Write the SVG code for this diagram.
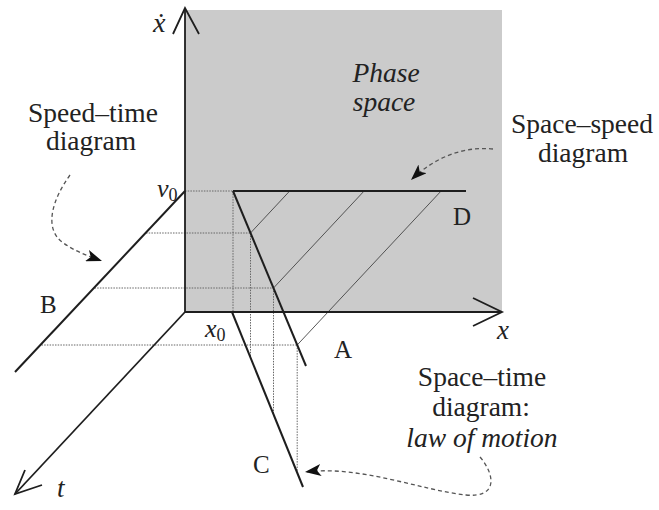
<svg xmlns="http://www.w3.org/2000/svg" width="659" height="510" viewBox="0 0 659 510" font-family="'Liberation Serif', 'DejaVu Serif', 'Times New Roman', serif">
<style>
text{font-family:'Liberation Serif','DejaVu Serif','Times New Roman',serif;fill:#222}
.lbl{font-size:27.5px;text-anchor:middle}
.it{font-style:italic}
.ax{stroke:#1e1e1e;stroke-width:1.8;fill:none}
.ln{stroke:#1e1e1e;stroke-width:2;fill:none}
.dot{stroke:#666;stroke-width:1;stroke-dasharray:1.5 1.2;fill:none}
.proj{stroke:#444;stroke-width:0.9;fill:none}
.call{stroke:#555;stroke-width:1.3;stroke-dasharray:4 3;fill:none;marker-end:url(#ah)}
</style>
<defs>
<marker id="ah" viewBox="0 0 16 12" refX="16" refY="6" markerWidth="16" markerHeight="12" markerUnits="userSpaceOnUse" orient="auto">
<path d="M0,0 L16,6 L0,12 L4,6 Z" fill="#111"/>
</marker>
</defs>
<g id="phase-space">
<rect x="185" y="10" width="317" height="302" fill="#cbcbcb"/>
<text class="lbl it" x="386" y="82">Phase</text>
<text class="lbl it" x="384" y="111">space</text>
</g>
<g id="projections">
<line class="dot" x1="185" y1="191" x2="233" y2="191"/>
<line class="dot" x1="146" y1="233" x2="250.5" y2="233"/>
<line class="dot" x1="94.5" y1="288" x2="273.5" y2="288"/>
<line class="dot" x1="41.5" y1="345" x2="297.2" y2="345"/>
<line class="dot" x1="233" y1="191" x2="233" y2="312"/>
<line class="dot" x1="250.5" y1="233" x2="250.5" y2="359"/>
<line class="dot" x1="273.5" y1="288" x2="273.5" y2="415"/>
<line class="dot" x1="297.2" y1="345" x2="297.2" y2="472"/>
<line class="proj" x1="250.5" y1="233" x2="289.7" y2="191"/>
<line class="proj" x1="273.5" y1="288" x2="364.1" y2="191"/>
<line class="proj" x1="297.2" y1="345" x2="441.1" y2="191"/>
</g>
<g id="axes">
<line class="ax" x1="185" y1="312" x2="185" y2="8"/>
<polyline class="ax" points="173,34 185,8 199,34"/>
<line class="ax" x1="185" y1="312" x2="502" y2="312"/>
<polyline class="ax" points="473,298 502,312 473,326"/>
<line class="ax" x1="185" y1="312" x2="15" y2="494"/>
<polyline class="ax" points="25,470 15,494 42,485"/>
<text class="it" x="153" y="32" font-size="28">ẋ</text>
<text class="it" x="497" y="339" font-size="27">x</text>
<text class="it" x="57" y="497" font-size="27">t</text>
<text x="157" y="197" font-size="26"><tspan class="it">v</tspan><tspan font-size="18" dy="4">0</tspan></text>
<text x="205" y="337" font-size="26"><tspan class="it">x</tspan><tspan font-size="18" dy="4">0</tspan></text>
</g>
<g id="line-A">
<line class="ln" x1="233" y1="191" x2="306" y2="366"/>
<text x="334" y="358" font-size="25">A</text>
</g>
<g id="line-B">
<line class="ln" x1="185" y1="191" x2="15" y2="372"/>
<text x="40" y="313" font-size="25">B</text>
</g>
<g id="line-C">
<line class="ln" x1="232" y1="312" x2="303" y2="487"/>
<text x="253" y="473" font-size="25">C</text>
</g>
<g id="line-D">
<line class="ln" x1="233" y1="191" x2="466" y2="191"/>
<text x="453" y="225" font-size="25">D</text>
</g>
<g id="label-speed-time">
<text class="lbl" x="93" y="122">Speed–time</text>
<text class="lbl" x="91" y="150">diagram</text>
</g>
<g id="label-space-speed">
<text class="lbl" x="582" y="133">Space–speed</text>
<text class="lbl" x="583" y="162">diagram</text>
</g>
<g id="label-space-time">
<text class="lbl" x="482" y="386">Space–time</text>
<text class="lbl" x="481" y="416">diagram:</text>
<text class="lbl it" x="482" y="447">law of motion</text>
</g>
<g id="connectors">
<path class="call" d="M70,175 C52,200 44,228 62,242 C74,251 88,256 102,261"/>
<path class="call" d="M493,149 C462,146 434,158 411,180"/>
<path class="call" d="M480,457 C496,476 497,498 466,495 C420,490 360,465 305,472"/>
</g>
</svg>
